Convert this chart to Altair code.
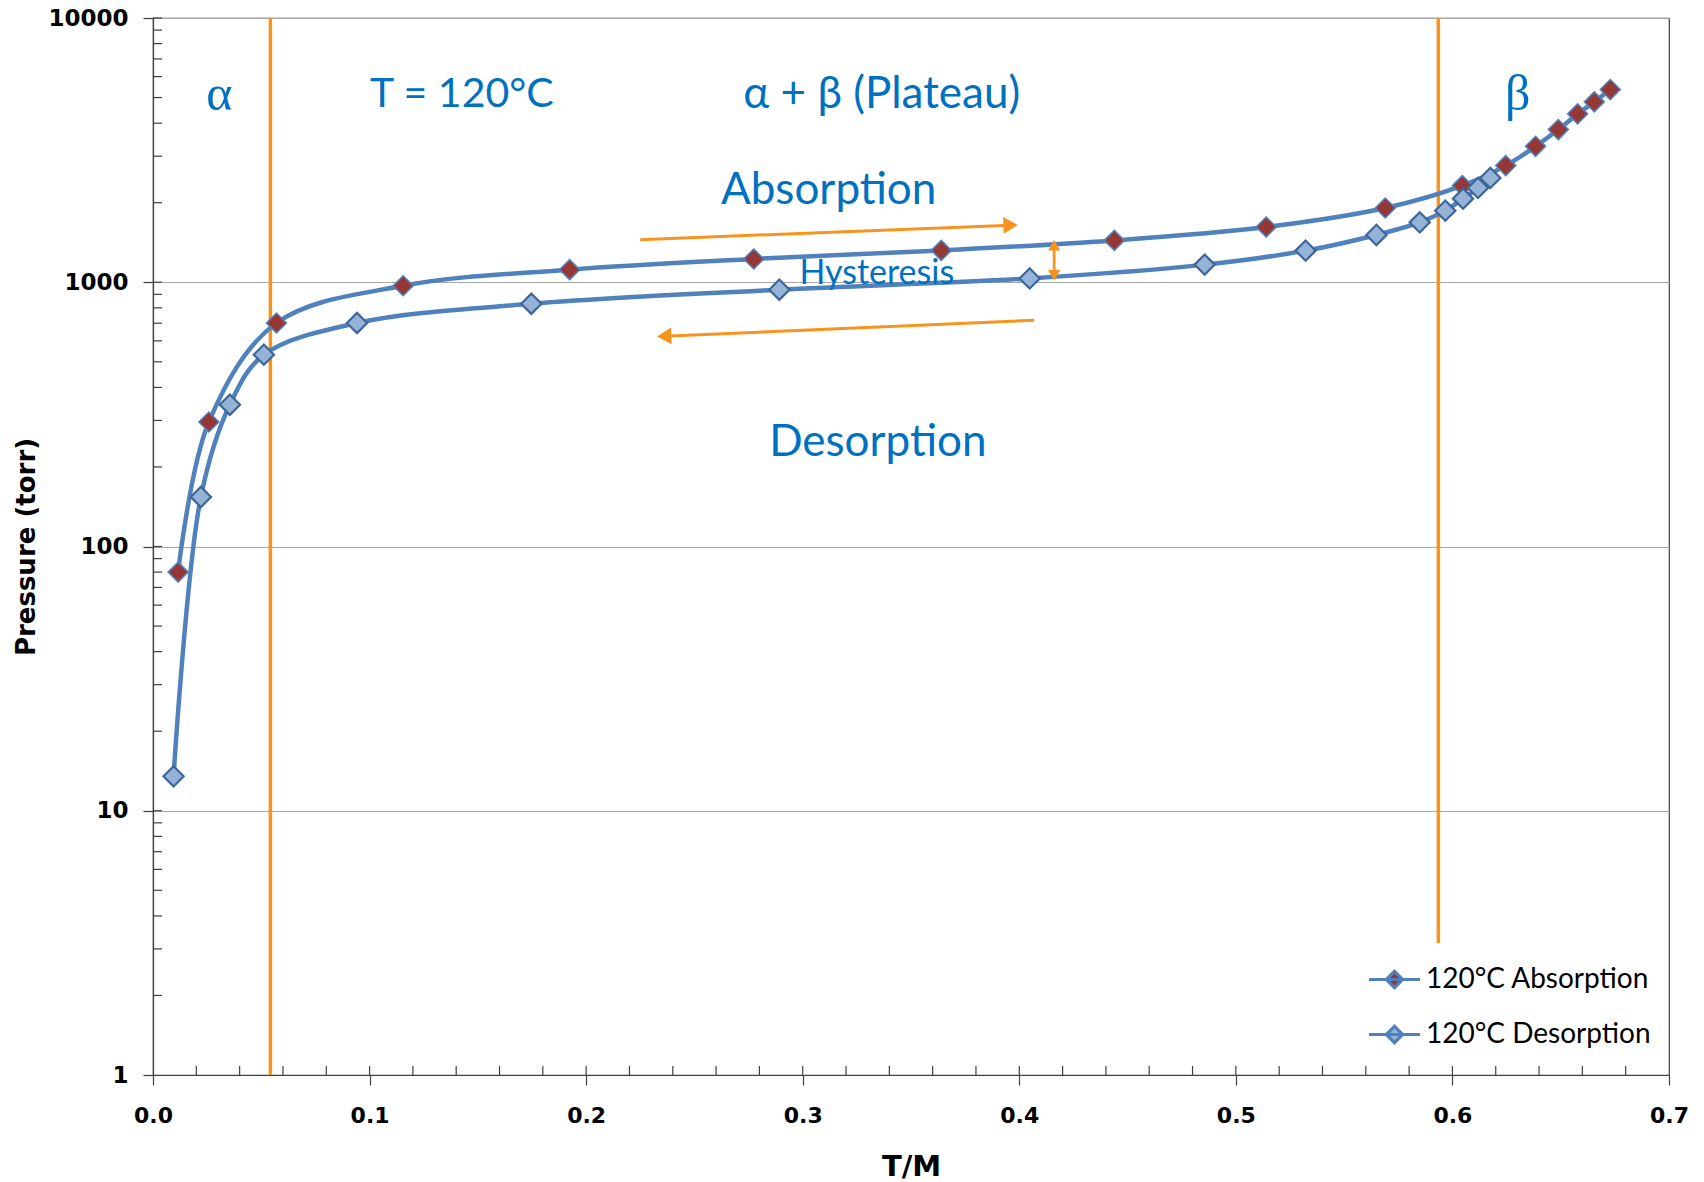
import altair as alt
import pandas as pd

# ---------------- data ----------------
series_names = ["120°C Absorption", "120°C Desorption"]

abs_tm = [0.0116, 0.0258, 0.0570, 0.1155, 0.1924, 0.2774, 0.3640, 0.4439, 0.5140,
          0.5690, 0.6046, 0.6246, 0.6384, 0.6489, 0.6578, 0.6655, 0.6729]
abs_p = [80, 296, 701, 970, 1116, 1225, 1320, 1440, 1619,
         1910, 2321, 2763, 3269, 3782, 4337, 4815, 5360]

des_tm = [0.0095, 0.0221, 0.0355, 0.0512, 0.0942, 0.1747, 0.2892, 0.4048, 0.4856,
          0.5322, 0.5649, 0.5849, 0.5967, 0.6049, 0.6118, 0.6175]
des_p = [13.5, 154, 344, 532, 701, 829, 937, 1034, 1166,
         1317, 1510, 1685, 1866, 2072, 2275, 2482]

x_ticks = [0.0, 0.1, 0.2, 0.3, 0.4, 0.5, 0.6, 0.7]
y_ticks = [1, 10, 100, 1000, 10000]
x_minor = [round(0.02 * i, 2) for i in range(1, 35)]
y_minor = [d * k for d in [1, 10, 100, 1000] for k in range(2, 11)]

# phase boundaries (T/M, lower P, upper P)
bound_tm = [0.0542, 0.5935]
bound_lo = [1, 3.16]
bound_hi = [10000, 10000]

# annotations
ann_text = ["T = 120°C", "α + β (Plateau)", "Absorption", "Hysteresis", "Desorption"]
ann_tm = [0.1426, 0.3365, 0.3120, 0.3342, 0.3347]
ann_p = [5120, 5120, 2210, 1070, 246]
ann_size = [41, 44, 44, 34, 44]

greek_text = ["α", "β"]
greek_tm = [0.0306, 0.6301]
greek_p = [5120, 5120]

# arrows: start -> end
arrow_tm0 = [0.2250, 0.4069]
arrow_p0 = [1449, 718]
arrow_tm1 = [0.3960, 0.2360]
arrow_p1 = [1645, 625]
head_shape = ["triangle-right", "triangle-left"]

hyst_tm = 0.4161
hyst_lo = 1062
hyst_hi = 1382

# ---------------- styles ----------------
BLUE = "#4f81bd"
RED = "#953735"
LIGHT = "#95b3d7"
DARK = "#3d669a"
ORANGE = "#f7941e"
ANN = "#0070c0"
AXIS = "#404040"

W, H = 1516, 1057

xs = alt.Scale(domain=[0, 0.7], nice=False, zero=False)
ys = alt.Scale(type="log", domain=[1, 10000], nice=False)

xaxis = alt.Axis(
    title="T/M", values=x_ticks, format=".1f", grid=False,
    tickSize=10, tickColor=AXIS, tickWidth=1.2, domainColor=AXIS, domainWidth=1.2,
    labelFont="DejaVu Sans", labelFontWeight="bold", labelFontSize=22, labelColor="black",
    labelPadding=20, labelFlush=False,
    titleFont="DejaVu Sans", titleFontWeight="bold", titleFontSize=29, titleColor="black",
    titleX=W / 2, titleY=91, titleBaseline="middle", titleAlign="center",
)
yaxis = alt.Axis(
    title="Pressure (torr)", values=y_ticks, format="d",
    grid=True, gridColor="#a6a6a6", gridWidth=1.2,
    tickSize=10, tickColor=AXIS, tickWidth=1.2, domainColor=AXIS, domainWidth=1.2,
    labelFont="DejaVu Sans", labelFontWeight="bold", labelFontSize=23, labelColor="black",
    labelPadding=15, labelFlush=False,
    titleFont="DejaVu Sans", titleFontWeight="bold", titleFontSize=26, titleColor="black",
    titleX=-127, titleY=H / 2, titleBaseline="middle", titleAlign="center", titleAngle=270,
)


def X(f):
    return alt.X(f, type="quantitative", scale=xs, axis=xaxis)


def Y(f):
    return alt.Y(f, type="quantitative", scale=ys, axis=yaxis)


df = pd.DataFrame({
    "tm": abs_tm + des_tm,
    "p": abs_p + des_p,
    "series": [series_names[0]] * len(abs_tm) + [series_names[1]] * len(des_tm),
})
df_abs = df[df["series"] == series_names[0]]
df_des = df[df["series"] == series_names[1]]

bounds = pd.DataFrame({"tm": bound_tm, "lo": bound_lo, "hi": bound_hi})
xminor_df = pd.DataFrame({"v": x_minor})
yminor_df = pd.DataFrame({"v": y_minor})
ann_df = pd.DataFrame({"t": ann_text, "tm": ann_tm, "p": ann_p, "s": ann_size})
greek_df = pd.DataFrame({"t": greek_text, "tm": greek_tm, "p": greek_p})
arrow_df = pd.DataFrame({"tm0": arrow_tm0, "p0": arrow_p0, "tm1": arrow_tm1,
                         "p1": arrow_p1, "shape": head_shape})
hyst_df = pd.DataFrame({"tm": [hyst_tm], "lo": [hyst_lo], "hi": [hyst_hi]})
hyst_heads = pd.DataFrame({"tm": [hyst_tm, hyst_tm], "p": [hyst_lo, hyst_hi],
                           "shape": ["triangle-down", "triangle-up"]})

legend_path = "M-1,0L1,0M0,-0.32L0.32,0L0,0.32L-0.32,0Z"
fill_scale = alt.Scale(domain=series_names, range=[RED, LIGHT])
legend = alt.Legend(
    title=None, orient="none", legendX=1214, legendY=934, padding=0,
    symbolType=legend_path, symbolSize=2600,
    symbolStrokeColor=BLUE, symbolStrokeWidth=3.2, symbolOpacity=1,
    labelFont="Lato", labelFontSize=28, labelColor="black",
    labelOffset=4, rowPadding=12, labelLimit=400,
)

# ---------------- layers ----------------
xmin_ticks = alt.Chart(xminor_df).mark_rule(color=AXIS, strokeWidth=1.2).encode(
    x=X("v"), y=alt.value(H - 9), y2=alt.value(H))
ymin_ticks = alt.Chart(yminor_df).mark_rule(color=AXIS, strokeWidth=1.2).encode(
    y=Y("v"), x=alt.value(0), x2=alt.value(9))

bound_rules = alt.Chart(bounds).mark_rule(color=ORANGE, strokeWidth=3.5).encode(
    x=X("tm"), y=Y("lo"), y2=alt.Y2("hi"))

lines = alt.Chart(df).mark_line(interpolate="catmull-rom", color=BLUE, strokeWidth=4.5).encode(
    x=X("tm"), y=Y("p"), detail="series:N", order="tm:Q")

pts_abs = alt.Chart(df_abs).mark_point(
    filled=True, shape="diamond", opacity=1, size=400, stroke=BLUE, strokeWidth=1.5
).encode(x=X("tm"), y=Y("p"), fill=alt.Fill("series:N", scale=fill_scale, legend=legend))

pts_des = alt.Chart(df_des).mark_point(
    filled=True, shape="diamond", opacity=1, size=410, stroke=DARK, strokeWidth=2.2
).encode(x=X("tm"), y=Y("p"), fill=alt.Fill("series:N", scale=fill_scale, legend=legend))

ann = alt.Chart(ann_df).mark_text(font="Lato", color=ANN, baseline="middle", align="center").encode(
    x=X("tm"), y=Y("p"), text="t:N", size=alt.Size("s:Q", scale=None))
greek = alt.Chart(greek_df).mark_text(font="Liberation Serif", color=ANN, fontSize=50,
                                      baseline="middle", align="center").encode(
    x=X("tm"), y=Y("p"), text="t:N")

arrow_lines = alt.Chart(arrow_df).mark_rule(color=ORANGE, strokeWidth=3).encode(
    x=X("tm0"), y=Y("p0"), x2=alt.X2("tm1"), y2=alt.Y2("p1"))
arrow_heads = alt.Chart(arrow_df).mark_point(filled=True, color=ORANGE, opacity=1,
                                             size=280, angle=358).encode(
    x=X("tm1"), y=Y("p1"), shape=alt.Shape("shape:N", scale=None))

hyst_line = alt.Chart(hyst_df).mark_rule(color=ORANGE, strokeWidth=2.8).encode(
    x=X("tm"), y=Y("lo"), y2=alt.Y2("hi"))
hyst_h = alt.Chart(hyst_heads).mark_point(filled=True, color=ORANGE, opacity=1, size=150).encode(
    x=X("tm"), y=Y("p"), shape=alt.Shape("shape:N", scale=None))

chart = alt.layer(
    xmin_ticks, ymin_ticks, bound_rules, lines, pts_abs, pts_des, ann, greek,
    arrow_lines, arrow_heads, hyst_line, hyst_h,
).properties(
    width=W, height=H,
    autosize=alt.AutoSizeParams(type="none"),
    padding={"left": 153, "top": 18, "right": 35, "bottom": 107},
    background="white",
).configure_view(stroke=AXIS, strokeWidth=1.2)

chart.save("out.html", embed_options={"renderer": "svg", "actions": False})
